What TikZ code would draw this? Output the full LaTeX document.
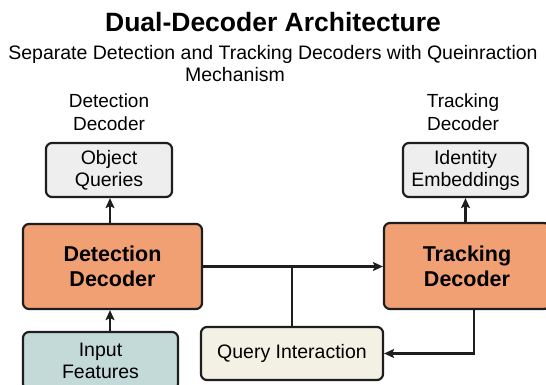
\documentclass[tikz,border=0pt]{standalone}
\usepackage{fontspec}
\setmainfont{Liberation Sans}
\usetikzlibrary{arrows.meta}
\definecolor{orangefill}{HTML}{F0A073}
\definecolor{greyfill}{HTML}{EEEEEE}
\definecolor{tealfill}{HTML}{C3DAD8}
\definecolor{creamfill}{HTML}{F3F0E4}
\definecolor{edge}{HTML}{1E1E1E}
\tikzset{
  box/.style={draw=edge, line width=2.2pt, rounded corners=6pt, align=center, inner sep=0pt},
  smallbox/.style={box, fill=greyfill, font=\fontsize{19.5}{22}\selectfont},
  decbox/.style={box, fill=orangefill, font=\bfseries\fontsize{21.5}{25}\selectfont},
  conn/.style={draw=edge, line width=2.2pt},
  arr/.style={conn, -{Stealth[length=10pt,width=9pt,inset=2pt]}},
  lbl/.style={font=\fontsize{19}{23}\selectfont, align=center, inner sep=0pt},
}
\begin{document}
\begin{tikzpicture}[x=1pt,y=-1pt]
\useasboundingbox (0,0) rectangle (546,385);
\fill[white] (0,0) rectangle (546,385);
% titles
\node[font=\bfseries\fontsize{26.5}{30}\selectfont, anchor=base, inner sep=0pt] (title) at (273,32) {Dual-Decoder Architecture};
\node[font=\fontsize{19.5}{22}\selectfont, anchor=base, inner sep=0pt] (sub1) at (273,60) {Separate Detection and Tracking Decoders with Queinraction};
\node[font=\fontsize{19.5}{22}\selectfont, anchor=base, inner sep=0pt] (sub2) at (235,82) {Mechanism};
% side labels
\node[lbl, anchor=base] (dlab1) at (109,108) {Detection};
\node[lbl, anchor=base] (dlab2) at (109,131) {Decoder};
\node[lbl, anchor=base] (tlab1) at (463,108) {Tracking};
\node[lbl, anchor=base] (tlab2) at (463,131) {Decoder};
% boxes
\node[smallbox, minimum width=126pt, minimum height=54pt] (oq) at (109,170) {Object\\Queries};
\node[decbox, minimum width=179pt, minimum height=85pt] (dd) at (112.5,266.5) {Detection\\Decoder};
\node[box, fill=tealfill, font=\fontsize{19.5}{22}\selectfont, minimum width=155pt, minimum height=58pt] (inp) at (100.5,361) {Input\\Features};
\node[smallbox, minimum width=125pt, minimum height=54pt] (ie) at (465.5,170) {Identity\\Embeddings};
\node[decbox, minimum width=166pt, minimum height=86pt] (td) at (467,266) {Tracking\\Decoder};
\node[box, fill=creamfill, font=\fontsize{19.5}{22}\selectfont, minimum width=182pt, minimum height=53pt] (qi) at (292,353.5) {Query Interaction};
% connectors
\coordinate (ax) at (110,0);
\draw[arr] (dd.north -| ax) -- (oq.south -| ax);
\draw[arr] (inp.north -| ax) -- (dd.south -| ax);
\draw[arr] (td.north -| ie.south) -- (ie.south);
\draw[arr] (dd.east) -- (td.west |- dd.east);
\draw[conn] (qi.north) -- (qi.north |- dd.east);
\coordinate (tdx) at (474,0);
\draw[arr] (td.south -| tdx) |- (qi.east);
\end{tikzpicture}
\end{document}
